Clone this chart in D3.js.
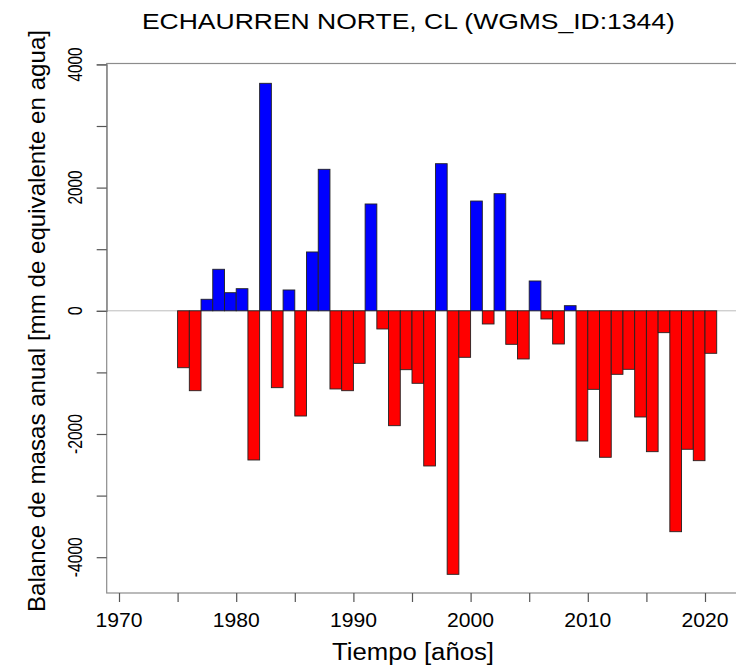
<!DOCTYPE html>
<html lang="en">
  <head>
    <meta charset="UTF-8" />
    <title>Echaurren Norte - balance de masas</title>
    <script src="https://d3js.org/d3.v7.min.js"></script>
    <style>
      body {
        margin: 0;
        background: #fff;
      }
      text {
        font-family: 'Liberation Sans', Arial, sans-serif;
        fill: #000;
      }
    </style>
  </head>
  <body>
    <div id="chart"></div>
    <script>
      // hydrological years (bar drawn from year-1 to year)
      const years = [
        1976, 1977, 1978, 1979, 1980, 1981, 1982, 1983, 1984, 1985,
        1986, 1987, 1988, 1989, 1990, 1991, 1992, 1993, 1994, 1995,
        1996, 1997, 1998, 1999, 2000, 2001, 2002, 2003, 2004, 2005,
        2006, 2007, 2008, 2009, 2010, 2011, 2012, 2013, 2014, 2015,
        2016, 2017, 2018, 2019, 2020, 2021,
      ];
      // annual mass balance, mm w.e.
      const balance = [
        -924, -1297, 187, 674, 294, 359, -2422, 3693, -1248, 338,
        -1708, 955, 2297, -1269, -1297, -853, 1734, -295, -1865, -956,
        -1177, -2519, 2388, -4278, -755, 1782, -214, 1901, -544, -782,
        484, -133, -539, 83, -2114, -1275, -2378, -1031, -950, -1724,
        -2287, -355, -3586, -2248, -2433, -690,
      ];
      const yTicks = [-4000, -3000, -2000, -1000, 0, 1000, 2000, 3000, 4000];
      const yLabels = [-4000, -2000, 0, 2000, 4000];
      const xTicks = [1970, 1975, 1980, 1985, 1990, 1995, 2000, 2005, 2010, 2015, 2020];
      const xLabels = [1970, 1980, 1990, 2000, 2010, 2020];

      const W = 736;
      const H = 666;
      const plotLeft = 106.7,
        plotTop = 63.5,
        plotBottom = 593;

      const svg = d3
        .select('#chart')
        .append('svg')
        .attr('width', W)
        .attr('height', H);

      svg.append('rect').attr('width', W).attr('height', H).attr('fill', '#fff');

      const x = d3.scaleLinear().domain([1970, 2020]).range([119, 705]);
      const y = d3.scaleLinear().domain([0, 4000]).range([310.8, 64.4]);
      const plotRight = x(2028);

      // zero line
      svg
        .append('line')
        .attr('x1', plotLeft)
        .attr('x2', plotRight)
        .attr('y1', y(0))
        .attr('y2', y(0))
        .attr('stroke', '#bdbdbd')
        .attr('stroke-width', 1);

      const data = years.map((yr, i) => ({ yr: yr, v: balance[i] }));

      svg
        .selectAll('rect.bar')
        .data(data)
        .enter()
        .append('rect')
        .attr('class', 'bar')
        .attr('x', (d) => x(d.yr - 1))
        .attr('width', (d) => x(d.yr) - x(d.yr - 1))
        .attr('y', (d) => (d.v >= 0 ? y(d.v) : y(0)))
        .attr('height', (d) => Math.abs(y(d.v) - y(0)))
        .attr('fill', (d) => (d.v >= 0 ? '#0000ff' : '#ff0000'))
        .attr('stroke', '#222')
        .attr('stroke-width', 0.9);

      // box
      svg
        .append('rect')
        .attr('x', plotLeft)
        .attr('y', plotTop)
        .attr('width', plotRight - plotLeft)
        .attr('height', plotBottom - plotTop)
        .attr('fill', 'none')
        .attr('stroke', '#8c8c8c')
        .attr('stroke-width', 1.2);

      // y axis
      const yAxis = svg
        .append('g')
        .attr('transform', `translate(${plotLeft},0)`)
        .call(d3.axisLeft(y).tickValues(yTicks).tickSize(10).tickFormat(''));
      yAxis.select('.domain').attr('stroke', '#8c8c8c').attr('stroke-width', 1.2);
      yAxis.selectAll('.tick line').attr('stroke', '#555').attr('stroke-width', 1.2);

      svg
        .selectAll('text.ylab')
        .data(yLabels)
        .enter()
        .append('text')
        .attr('class', 'ylab')
        .attr('transform', (d) => `translate(81.5,${y(d)}) rotate(-90)`)
        .attr('text-anchor', 'middle')
        .attr('font-size', 20)
        .attr('textLength', (d) => (d < 0 ? 40 : d === 0 ? 9 : 34))
        .attr('lengthAdjust', 'spacingAndGlyphs')
        .text((d) => d);

      // x axis
      const xAxis = svg
        .append('g')
        .attr('transform', `translate(0,${plotBottom})`)
        .call(d3.axisBottom(x).tickValues(xTicks).tickSize(9).tickFormat(''));
      xAxis.select('.domain').remove();
      xAxis.selectAll('.tick line').attr('stroke', '#555').attr('stroke-width', 1.2);

      svg
        .selectAll('text.xlab')
        .data(xLabels)
        .enter()
        .append('text')
        .attr('class', 'xlab')
        .attr('x', (d) => x(d))
        .attr('y', 627)
        .attr('text-anchor', 'middle')
        .attr('font-size', 21)
        .attr('textLength', 47)
        .attr('lengthAdjust', 'spacingAndGlyphs')
        .text((d) => d);

      // titles
      svg
        .append('text')
        .attr('x', 408.4)
        .attr('y', 28.5)
        .attr('text-anchor', 'middle')
        .attr('font-size', 21.5)
        .attr('textLength', 533)
        .attr('lengthAdjust', 'spacingAndGlyphs')
        .text('ECHAURREN NORTE, CL (WGMS_ID:1344)');

      svg
        .append('text')
        .attr('x', 413)
        .attr('y', 660)
        .attr('text-anchor', 'middle')
        .attr('font-size', 23)
        .attr('textLength', 162)
        .attr('lengthAdjust', 'spacingAndGlyphs')
        .text('Tiempo [años]');

      svg
        .append('text')
        .attr('transform', 'translate(45,321) rotate(-90)')
        .attr('text-anchor', 'middle')
        .attr('font-size', 24)
        .attr('textLength', 582)
        .attr('lengthAdjust', 'spacingAndGlyphs')
        .text('Balance de masas anual [mm de equivalente en agua]');
    </script>
  </body>
</html>
